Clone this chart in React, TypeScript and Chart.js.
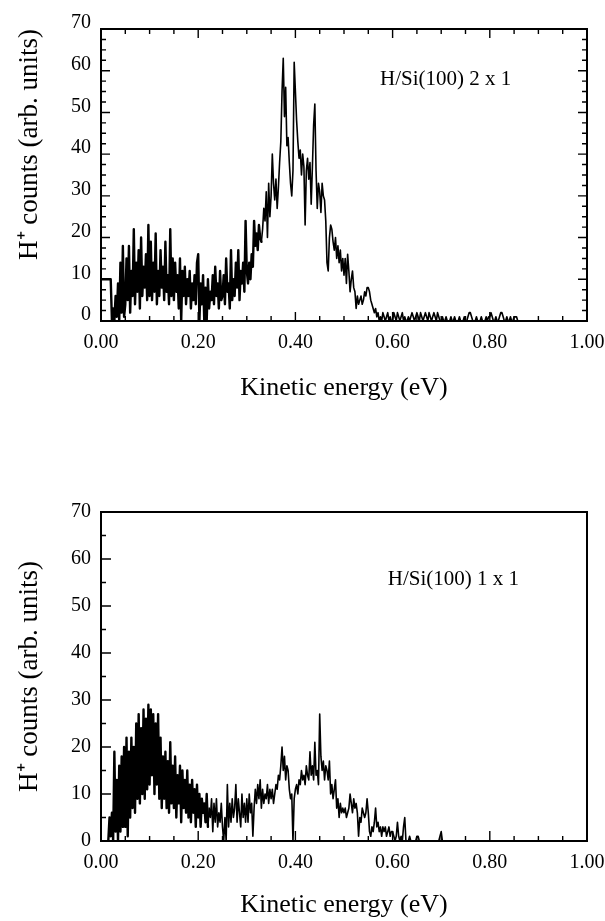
import React, { useEffect, useRef } from "react";
import { Chart, registerables } from "chart.js";

Chart.register(...registerables);

// Energy channels: E = index * ENERGY_STEP (eV)
const ENERGY_STEP = 0.0025;

// H/Si(100) 2 x 1 — H+ counts per channel (20 channels = 0.05 eV per row)
const COUNTS_2X1: (number | null)[] = [
  10, 10, 10, 10, 10, 10, 10, 10, 10, 0, 3, 0, 6, 1, 9, 0, 14, 2, 18, 1,
  4, 15, 5, 18, 2, 12, 6, 22, 4, 14, 7, 17, 3, 20, 6, 13, 8, 16, 5, 23,
  6, 19, 5, 14, 7, 21, 4, 12, 6, 17, 8, 13, 5, 19, 7, 11, 4, 22, 6, 15,
  5, 14, 7, 11, 3, 15, 0, 12, 6, 13, 4, 10, 6, 12, 3, 9, 5, 11, 4, 14,
  16, 0, 9, 4, 11, 0, 8, 0, 10, 3, 7, 5, 11, 4, 13, 6, 9, 3, 12, 5,
  6, 11, 4, 15, 7, 9, 3, 17, 5, 10, 6, 14, 8, 17, 5, 12, 9, 14, 7, 24,
  12, 9, 14, 10, 16, 13, 24, 18, 21, 17, 23, 20, 19, 22, 27, 24, 31, 20, 33, 25,
  30, 40, 33, 29, 34, 27, 32, 38, 43, 55, 63, 49, 56, 42, 44, 38, 33, 30, 36, 62,
  55, 48, 43, 39, 41, 35, 40, 37, 23, 36, 39, 34, 38, 28, 37, 47, 52, 36, 27, 33,
  31, 26, 33, 30, 29, 24, 14, 12, 20, 23, 22, 19, 17, 20, 15, 18, 14, 17, 12, 15,
  11, 15, 9, 16, 12, 7, 10, 12, 8, 7, 3, 6, 4, 5, 6, 4, 5, 7, 6, 8,
  8, 7, 5, 4, 3, 2, 3, 1, 2, 0, 1, 0, 2, 1, 0, 1, 2, 0, 1, 0,
  0, 2, 1, 0, 2, 1, 0, 1, 2, 0, 1, 0, 0, 1, 0, 1, 2, 1, 0, 1,
  2, 1, 0, 2, 1, 0, 1, 2, 1, 0, 2, 1, 0, 1, 2, 1, 0, 2, 1, 0,
  0, 1, 0, 0, 1, 0, 0, 0, 1, 0, 0, 1, 0, 0, 0, 1, 0, 0, 0, 1,
  0, 0, 1, 2, 2, 1, 0, 0, 0, 1, 0, 0, 0, 1, 0, 0, 0, 1, 0, 1,
  1, 2, 1, 0, 0, 1, 0, 0, 1, 2, 2, 1, 0, 0, 1, 0, 0, 1, 0, 0,
  1, 1, 1, 0,
];

// H/Si(100) 1 x 1 — H+ counts per channel
const COUNTS_1X1: (number | null)[] = [
  null, null, null, null, null, null, 0, 5, 1, 6, 0, 19, 2, 13, 0, 16, 2, 18, 3, 20,
  3, 22, 1, 19, 5, 22, 7, 20, 6, 25, 9, 27, 8, 24, 10, 28, 9, 26, 11, 29,
  12, 28, 14, 27, 10, 25, 12, 27, 9, 22, 7, 18, 9, 19, 7, 17, 6, 21, 8, 16,
  7, 18, 5, 14, 8, 16, 4, 15, 7, 13, 6, 15, 5, 12, 4, 13, 6, 11, 3, 12,
  5, 10, 3, 9, 6, 8, 4, 10, 3, 7, 5, 9, 2, 8, 4, 9, 3, 6, 4, 8,
  3, 0, 5, 0, 12, 3, 8, 4, 9, 5, 7, 12, 4, 9, 6, 3, 10, 5, 8, 4,
  9, 4, 10, 6, 8, 1, 7, 11, 8, 12, 9, 13, 7, 11, 8, 10, 9, 12, 8, 11,
  9, 11, 8, 10, 12, 11, 14, 13, 16, 20, 15, 18, 13, 16, 15, 11, 9, 10, 0, 9,
  11, 12, 10, 13, 12, 15, 13, 14, 12, 16, 14, 13, 19, 14, 16, 13, 21, 14, 15, 12,
  27, 18, 15, 17, 13, 16, 15, 13, 17, 10, 12, 9, 11, 13, 7, 9, 5, 8, 6, 7,
  6, 7, 5, 6, 7, 10, 8, 6, 9, 7, 8, 6, 1, 5, 4, 7, 6, 5, 6, 9,
  6, 2, 1, 3, 2, 4, 7, 3, 4, 2, 3, 1, 3, 2, 3, 1, 2, 3, 1, 2,
  2, 1, 0, 1, 4, 1, 0, 1, 0, 3, 5, 0, 0, 0, 1, 0, 0, 0, 0, 0,
  1, 1, 0, 0, 0, 0, 0, 0, 0, 0, 0, 0, 0, 0, 0, 0, 0, 0, 0, 1,
  2, 0, 0, 0, 0, 0, 0, 0, 0, 0, 0, 0, 0,
];

const X_RANGE = [0, 1];
const Y_RANGE = [0, 70];
const X_TICK_STEP = 0.2;
const Y_TICK_STEP = 10;

const X_TITLE = "Kinetic energy (eV)";
const Y_TITLE = "H\u207A counts (arb. units)";
const LABEL_2X1 = "H/Si(100) 2 x 1";
const LABEL_1X1 = "H/Si(100) 1 x 1";
// annotation anchor in data units [energy, counts]
const LABEL_2X1_AT = [0.574, 58];
const LABEL_1X1_AT = [0.59, 55.7];

const SERIF = '"Liberation Serif", "Times New Roman", Times, serif';

const toPoints = (vals: (number | null)[]) =>
  vals.map((v, i) => ({ x: i * ENERGY_STEP, y: v }));

const framePlugin = {
  id: "frame",
  afterDatasetsDraw(chart: any, _args: any, opts: any) {
    const { ctx, chartArea, scales } = chart;
    const { left, right, top, bottom } = chartArea;
    const xs = scales.x;
    const ys = scales.y;
    ctx.save();
    ctx.strokeStyle = "#000";
    ctx.lineWidth = 1.4;
    ctx.beginPath();
    const sides: string[] = opts.sides || [];
    const eps = 1e-6;
    for (let v = Y_RANGE[0]; v <= Y_RANGE[1] + eps; v += opts.yMinor) {
      const isMajor = Math.abs(v / opts.yMajor - Math.round(v / opts.yMajor)) < 1e-6;
      const len = isMajor ? opts.majorLen : opts.minorLen;
      const py = ys.getPixelForValue(v);
      if (sides.includes("left")) {
        ctx.moveTo(left, py);
        ctx.lineTo(left + len, py);
      }
      if (sides.includes("right")) {
        ctx.moveTo(right, py);
        ctx.lineTo(right - len, py);
      }
    }
    for (let v = X_RANGE[0]; v <= X_RANGE[1] + eps; v += opts.xMinor) {
      const isMajor = Math.abs(v / opts.xMajor - Math.round(v / opts.xMajor)) < 1e-6;
      const len = isMajor ? opts.majorLen : opts.minorLen;
      const px = xs.getPixelForValue(v);
      if (sides.includes("bottom")) {
        ctx.moveTo(px, bottom);
        ctx.lineTo(px, bottom - len);
      }
      if (sides.includes("top")) {
        ctx.moveTo(px, top);
        ctx.lineTo(px, top + len);
      }
    }
    ctx.stroke();
    ctx.lineWidth = 2;
    ctx.strokeRect(left, top, right - left, bottom - top);
    if (opts.label) {
      ctx.fillStyle = "#000";
      ctx.font = `21px ${SERIF}`;
      ctx.textAlign = "left";
      ctx.textBaseline = "middle";
      ctx.fillText(
        opts.label,
        xs.getPixelForValue(opts.labelAt[0]),
        ys.getPixelForValue(opts.labelAt[1])
      );
    }
    ctx.restore();
  },
};

type PanelCfg = {
  counts: (number | null)[];
  height: number;
  padTop: number;
  xAxisHeight: number;
  yLabelOffset: number;
  yTitleAlign: "start" | "center" | "end";
  xTitlePadBottom: number;
  denseUntil: number;
  frame: any;
};

function Panel({ cfg }: { cfg: PanelCfg }) {
  const ref = useRef<HTMLCanvasElement | null>(null);
  useEffect(() => {
    if (!ref.current) return;
    const chart = new Chart(ref.current, {
      type: "line",
      data: {
        datasets: [
          {
            data: toPoints(cfg.counts) as any,
            borderColor: "#000",
            borderWidth: 1.6,
            borderJoinStyle: "round",
            borderCapStyle: "round",
            segment: {
              // the noisy low-energy part is drawn as a dense, heavier trace
              borderWidth: (c: any) =>
                c.p0.parsed.x < cfg.denseUntil ? 2.4 : 1.6,
            },
            pointRadius: 0,
            tension: 0,
            spanGaps: false,
            fill: false,
          },
        ],
      },
      options: {
        animation: false,
        responsive: false,
        maintainAspectRatio: false,
        devicePixelRatio: 1,
        layout: { padding: { top: cfg.padTop, right: 18, left: 0, bottom: 0 } },
        plugins: {
          legend: { display: false },
          tooltip: { enabled: false },
          frame: cfg.frame,
        } as any,
        scales: {
          x: {
            type: "linear",
            min: X_RANGE[0],
            max: X_RANGE[1],
            grid: { display: false, drawTicks: false },
            border: { display: false },
            ticks: {
              stepSize: X_TICK_STEP,
              padding: 10,
              color: "#000",
              maxRotation: 0,
              font: { family: SERIF, size: 20 },
              callback: (v: any) => Number(v).toFixed(2),
            },
            title: {
              display: true,
              text: X_TITLE,
              color: "#000",
              font: { family: SERIF, size: 26 },
              padding: { top: 0, bottom: cfg.xTitlePadBottom },
            },
            afterFit: (s: any) => {
              s.height = cfg.xAxisHeight;
              s.paddingLeft = 0;
              s.paddingRight = 0;
            },
          },
          y: {
            type: "linear",
            min: Y_RANGE[0],
            max: Y_RANGE[1],
            grid: { display: false, drawTicks: false },
            border: { display: false },
            ticks: {
              stepSize: Y_TICK_STEP,
              padding: 10,
              color: "#000",
              labelOffset: cfg.yLabelOffset,
              font: { family: SERIF, size: 20 },
            },
            title: {
              display: true,
              text: Y_TITLE,
              color: "#000",
              align: cfg.yTitleAlign,
              font: { family: SERIF, size: 27 },
              padding: { top: 14, bottom: 0 },
            },
            afterFit: (s: any) => {
              s.width = 101;
              s.paddingTop = 0;
              s.paddingBottom = 0;
            },
          },
        } as any,
      },
      plugins: [framePlugin],
    });
    return () => chart.destroy();
  }, [cfg]);
  return (
    <canvas
      ref={ref}
      width={605}
      height={cfg.height}
      style={{ display: "block", width: 605, height: cfg.height }}
    />
  );
}

const TOP_CFG: PanelCfg = {
  counts: COUNTS_2X1,
  height: 410,
  padTop: 29,
  xAxisHeight: 89,
  yLabelOffset: -6,
  yTitleAlign: "end",
  xTitlePadBottom: 6,
  denseUntil: 0.33,
  frame: {
    sides: ["left", "right", "top", "bottom"],
    yMinor: 2.5,
    yMajor: 10,
    xMinor: 0.05,
    xMajor: 0.2,
    minorLen: 5,
    majorLen: 9,
    label: LABEL_2X1,
    labelAt: LABEL_2X1_AT,
  },
};

const BOTTOM_CFG: PanelCfg = {
  counts: COUNTS_1X1,
  height: 511,
  padTop: 102,
  xAxisHeight: 80,
  yLabelOffset: 0,
  yTitleAlign: "center",
  xTitlePadBottom: 0,
  denseUntil: 0.22,
  frame: {
    sides: ["left", "bottom"],
    yMinor: 5,
    yMajor: 10,
    xMinor: 0.05,
    xMajor: 0.2,
    minorLen: 5,
    majorLen: 10,
    label: LABEL_1X1,
    labelAt: LABEL_1X1_AT,
  },
};

export default function App() {
  return (
    <div
      style={{
        position: "absolute",
        left: 0,
        top: 0,
        width: 605,
        height: 921,
        background: "#fff",
        overflow: "hidden",
      }}
    >
      <Panel cfg={TOP_CFG} />
      <Panel cfg={BOTTOM_CFG} />
    </div>
  );
}
